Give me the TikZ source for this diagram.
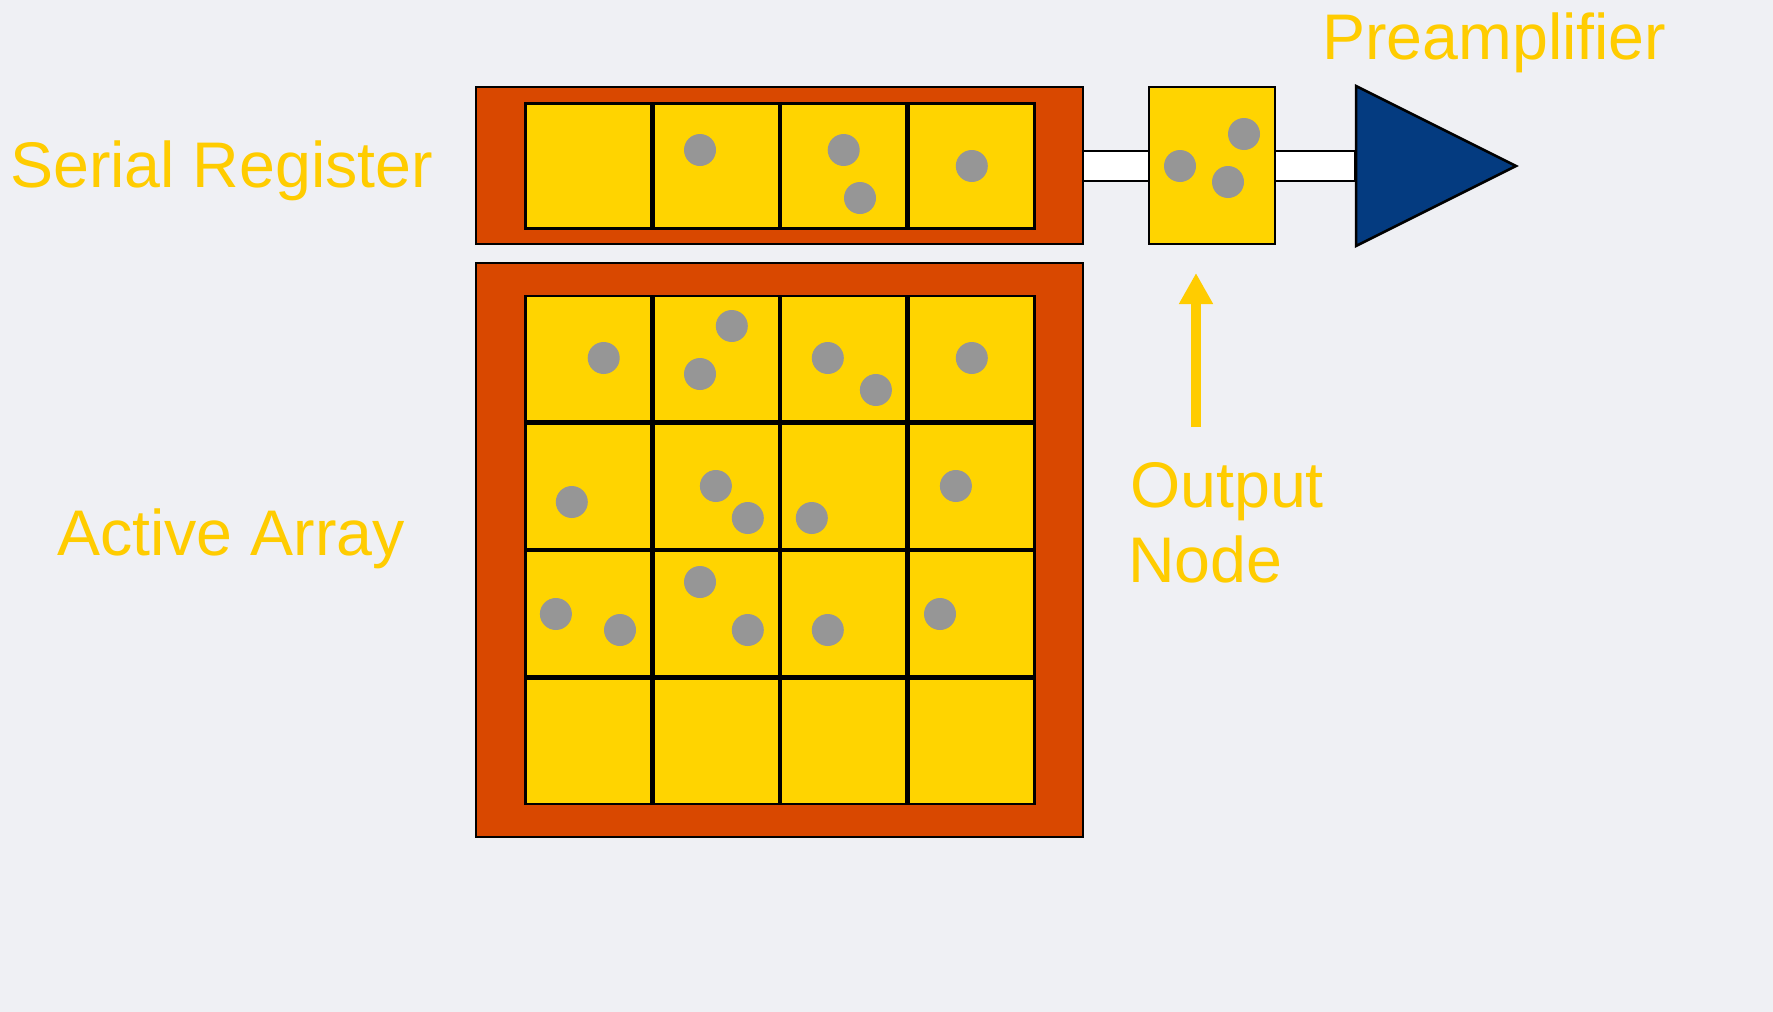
\documentclass[tikz,border=0pt]{standalone}
\usepackage{fontspec}
\setmainfont{Liberation Sans}
\usetikzlibrary{arrows.meta}
\definecolor{bg}{HTML}{EFF0F4}
\definecolor{orng}{HTML}{D94800}
\definecolor{cellyel}{HTML}{FFD400}
\definecolor{txtyel}{HTML}{FFCC00}
\definecolor{dotgray}{HTML}{969696}
\definecolor{ampblue}{HTML}{043B80}
\begin{document}
\begin{tikzpicture}[x=1pt,y=-1pt,
  lbl/.style={text=txtyel, font=\fontsize{64.5}{75}\selectfont, inner sep=0pt, anchor=base west},
  frame/.style={fill=orng, draw=black, line width=2.8pt},
  cell/.style={fill=cellyel, draw=black, line width=2.8pt},
  dot/.style={fill=dotgray},
  bar/.style={fill=white, draw=black, line width=2.5pt},
  amp/.style={fill=ampblue, draw=black, line width=2.5pt, line join=miter},
  upar/.style={draw=txtyel, line width=10.7pt, -{Triangle[width=32pt,length=31pt]}}]
\fill[bg] (0,0) rectangle (1773,1012);
\useasboundingbox (0,0) rectangle (1773,1012);
% serial register
\draw[frame] (476,87) rectangle (1083,244);
\foreach \i in {0,...,3} {
  \draw[cell] ({525.5+127.75*\i},103.5) rectangle ++(125.75,125);
}
% active array
\draw[frame] (476,263) rectangle (1083,837);
\foreach \i in {0,...,3} {
  \foreach \j in {0,...,3} {
    \draw[cell] ({525.5+127.75*\i},{296+127.5*\j}) rectangle ++(125.75,125.5);
  }
}
% bars
\draw[bar] (1083,151) rectangle (1149,181);
\draw[bar] (1275,151) rectangle (1355,181);
% output node
\draw[cell] (1149,87) rectangle (1275,244);
% preamplifier
\draw[amp] (1356,86) -- (1516,166) -- (1356,246) -- cycle;
% charges
\foreach \p in {(700,150),(843.7,150),(860,198),(971.8,166),
  (603.7,358),(731.8,326),(700,374),(827.8,358),(875.9,390),(971.8,358),
  (571.8,502),(715.9,486),(747.8,518),(811.8,518),(955.9,486),
  (555.9,614),(620,630),(700,582),(747.8,630),(827.8,630),(940,614),
  (1180,166),(1244,134),(1228,182)} {
  \fill[dot] \p circle (16);
}
% labels
\node[lbl] (serial) at (10,187) {Serial Register};
\node[lbl] (active) at (57,555) {Active Array};
\node[lbl] (preamp) at (1322,59) {Preamplifier};
\node[lbl] (outA) at (1130,507) {Output};
\node[lbl] (outB) at (1128,582) {Node};
\coordinate (arrfoot) at (1196,427);
\coordinate (arrtip) at (1196,273);
\draw[upar] (arrfoot) -- (arrtip);
\end{tikzpicture}
\end{document}
